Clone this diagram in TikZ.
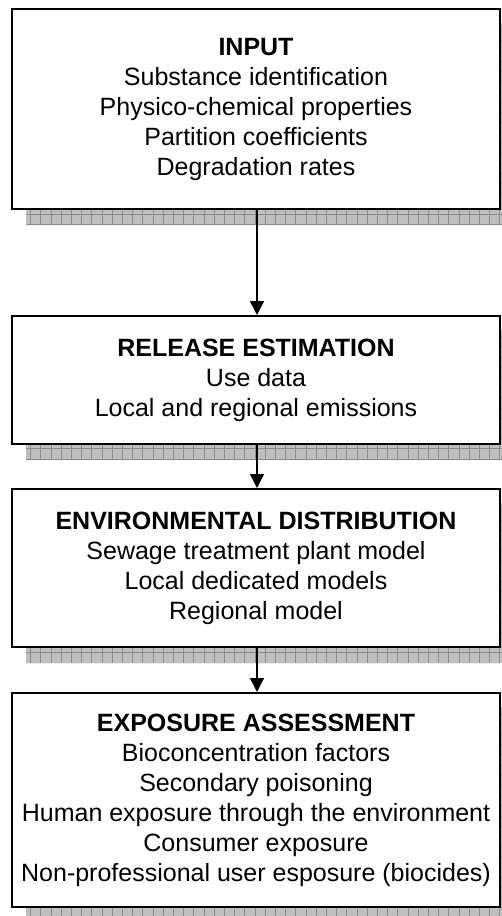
\documentclass[tikz,border=0pt]{standalone}
\usepackage{fontspec}
\setmainfont{Liberation Sans}
\usetikzlibrary{arrows.meta,backgrounds,calc}

% hatched drop shadow below and to the right of a stage box
\newcommand\stageshadow[1]{%
  \begin{scope}[on background layer]
    \begin{scope}
      \clip ($(#1.south west)+(15,0)$) rectangle ($(#1.south east)+(15,15)$)
            ($(#1.north east)+(0,15)$) rectangle ($(#1.south east)+(15,0)$);
      \fill[shadowfill] (0,0) rectangle (530,930);
      \draw[shadowgrid] (0,0) grid[step=10.2pt] (530,930);
    \end{scope}
  \end{scope}}

\begin{document}
\begin{tikzpicture}[x=1pt,y=-1pt,
  stagebox/.style={draw=black, line width=2pt, fill=white,
    minimum width=488pt, align=center, inner sep=0pt,
    font=\fontsize{25}{30}\selectfont},
  flow/.style={line width=1.5pt, -{Triangle[width=14pt,length=14pt]}},
  shadowfill/.style={fill=black!25},
  shadowgrid/.style={draw=black!45, line width=0.7pt}
]
\useasboundingbox (0,0) rectangle (502,916);

\node[stagebox, minimum height=200pt] (input) at (256,109)
  {\textbf{INPUT}\\Substance identification\\Physico-chemical properties\\Partition coefficients\\Degradation rates};

\node[stagebox, minimum height=128pt] (release) at (256,380)
  {\textbf{RELEASE ESTIMATION}\\Use data\\Local and regional emissions};

\node[stagebox, minimum height=158pt] (distrib) at (256,568)
  {\textbf{ENVIRONMENTAL DISTRIBUTION}\\Sewage treatment plant model\\Local dedicated models\\Regional model};

\node[stagebox, minimum height=214pt] (exposure) at (256,800)
  {\textbf{EXPOSURE ASSESSMENT}\\Bioconcentration factors\\Secondary poisoning\\Human exposure through the environment\\Consumer exposure\\Non-professional user esposure (biocides)};

\stageshadow{input}
\stageshadow{release}
\stageshadow{distrib}
\stageshadow{exposure}

\draw[flow] ([xshift=1pt]input.south) -- ([xshift=1pt]release.north);
\draw[flow] ([xshift=1pt]release.south) -- ([xshift=1pt]distrib.north);
\draw[flow] ([xshift=1pt]distrib.south) -- ([xshift=1pt]exposure.north);
\end{tikzpicture}
\end{document}
